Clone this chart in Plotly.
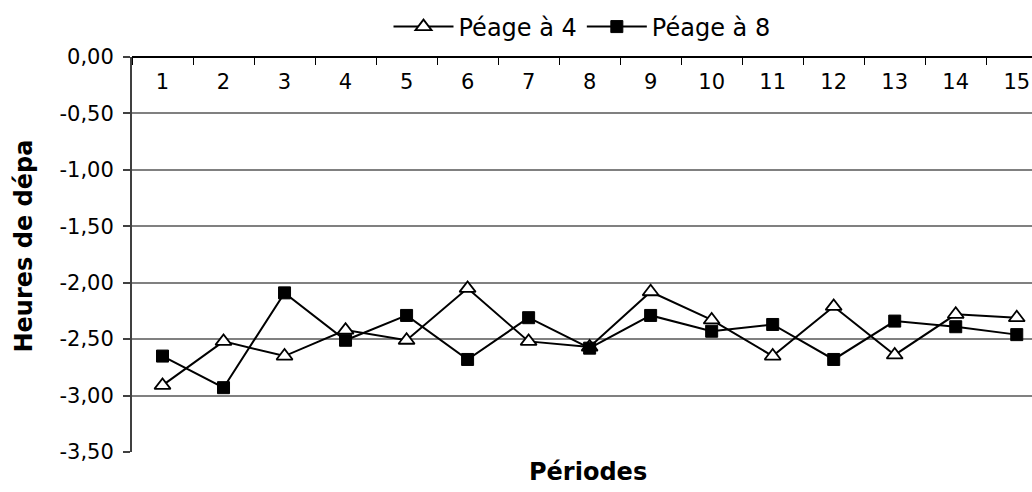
import plotly.graph_objects as go

# Périodes 1..15
periodes = [str(i) for i in range(1, 16)]

# Heures de départ moyennes par période
peage_4 = [-2.91, -2.52, -2.65, -2.42, -2.51, -2.05, -2.52, -2.57,
           -2.08, -2.33, -2.65, -2.21, -2.64, -2.28, -2.31]
peage_8 = [-2.65, -2.93, -2.09, -2.51, -2.29, -2.68, -2.31, -2.58,
           -2.29, -2.43, -2.37, -2.68, -2.34, -2.39, -2.46]

y_ticks = [0, -0.5, -1.0, -1.5, -2.0, -2.5, -3.0, -3.5]
# French decimal comma, plain hyphen for the sign
y_tick_text = [f"{v:.2f}".replace(".", ",") for v in y_ticks]

FONT = "DejaVu Sans"

fig = go.Figure()
fig.add_trace(go.Scatter(
    x=periodes, y=peage_4, name="Péage à 4", mode="lines+markers",
    line=dict(color="black", width=2),
    marker=dict(symbol="triangle-up", size=14, color="white",
                line=dict(color="black", width=1.8)),
))
fig.add_trace(go.Scatter(
    x=periodes, y=peage_8, name="Péage à 8", mode="lines+markers",
    line=dict(color="black", width=2),
    marker=dict(symbol="square", size=12, color="black",
                line=dict(color="black", width=1)),
))

fig.update_layout(
    width=1032, height=492,
    margin=dict(l=132, r=0, t=57, b=40),
    paper_bgcolor="white", plot_bgcolor="white",
    font=dict(family=FONT, size=21, color="black"),
    showlegend=True,
    legend=dict(orientation="h", x=0.5, xanchor="center",
                y=1.076, yanchor="middle",
                font=dict(family=FONT, size=24, color="black"),
                itemwidth=60, tracegroupgap=0, bgcolor="rgba(0,0,0,0)"),
    # category axis drawn along the y = 0 line, labels hanging below it
    xaxis=dict(
        type="category", anchor="free", position=1, side="bottom",
        range=[-0.5, 14.25],
        showline=True, linecolor="black", linewidth=1.5,
        ticks="outside", tickson="boundaries", ticklen=7,
        tickcolor="black", tickwidth=1.2,
        ticklabelstandoff=6,
        tickfont=dict(family=FONT, size=21, color="black"),
        showgrid=False, zeroline=False, fixedrange=True,
    ),
    yaxis=dict(
        range=[-3.5, 0], tickvals=y_ticks, ticktext=y_tick_text,
        showline=True, linecolor="#404040", linewidth=2,
        ticks="outside", ticklen=7, tickcolor="#404040", tickwidth=1.5,
        ticklabelstandoff=5,
        tickfont=dict(family=FONT, size=21, color="black"),
        showgrid=True, gridcolor="#808080", gridwidth=1.5,
        zeroline=False, fixedrange=True,
    ),
    annotations=[
        dict(text="<b>Périodes</b>", xref="paper", yref="paper",
             x=0.5, xshift=6, y=0, yshift=-20, yanchor="middle",
             showarrow=False, font=dict(family=FONT, size=24, color="black")),
        dict(text="<b>Heures de dépa</b>", xref="paper", yref="paper",
             x=0, xshift=-109, xanchor="center", y=0.5, yshift=8,
             yanchor="middle", textangle=-90, showarrow=False,
             font=dict(family=FONT, size=24, color="black")),
    ],
)

fig.write_html("out.html")
